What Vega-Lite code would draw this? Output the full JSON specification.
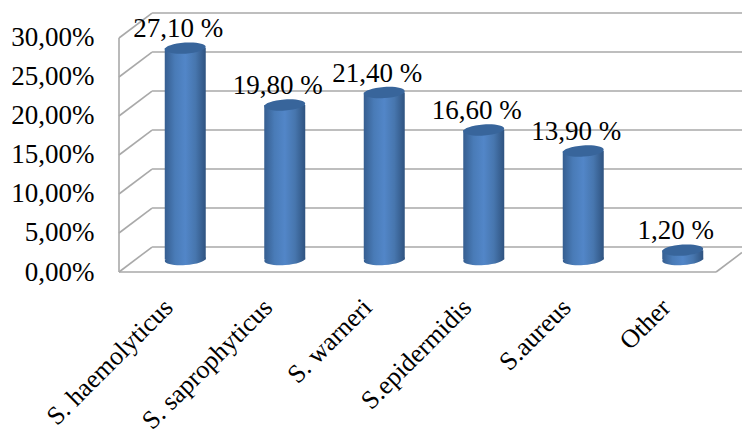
{
  "$schema": "https://vega.github.io/schema/vega-lite/v6.json",
  "width": 623,
  "height": 272,
  "padding": {"left": 119, "top": 0, "right": 0, "bottom": 162},
  "autosize": {"type": "none"},
  "background": "white",
  "config": {"view": {"stroke": null}, "font": "Liberation Serif"},
  "datasets": {
    "isolates": [
      {"name": "S. haemolyticus", "share": 27.1, "label": "27,10 %"},
      {"name": "S. saprophyticus", "share": 19.8, "label": "19,80 %"},
      {"name": "S. warneri", "share": 21.4, "label": "21,40 %"},
      {"name": "S.epidermidis", "share": 16.6, "label": "16,60 %"},
      {"name": "S.aureus", "share": 13.9, "label": "13,90 %"},
      {"name": "Other", "share": 1.2, "label": "1,20 %"}
    ],
    "frame": [
      {"x0": 0, "x1": 0, "y0": 0, "y1": 30},
      {"x0": 0, "x1": 6, "y0": 0, "y1": 0},
      {"x0": 6, "x1": 6.26, "y0": 0, "y1": 2.5},
      {"x0": 0, "x1": 0.332, "y0": 0, "y1": 3.2},
      {"x0": 0, "x1": 0.332, "y0": 5, "y1": 8.2},
      {"x0": 0, "x1": 0.332, "y0": 10, "y1": 13.2},
      {"x0": 0, "x1": 0.332, "y0": 15, "y1": 18.2},
      {"x0": 0, "x1": 0.332, "y0": 20, "y1": 23.2},
      {"x0": 0, "x1": 0.332, "y0": 25, "y1": 28.2},
      {"x0": 0, "x1": 0.332, "y0": 30, "y1": 33.2},
      {"x0": 0.332, "x1": 6.26, "y0": 3.2, "y1": 3.2},
      {"x0": 0.332, "x1": 6.26, "y0": 8.2, "y1": 8.2},
      {"x0": 0.332, "x1": 6.26, "y0": 13.2, "y1": 13.2},
      {"x0": 0.332, "x1": 6.26, "y0": 18.2, "y1": 18.2},
      {"x0": 0.332, "x1": 6.26, "y0": 23.2, "y1": 23.2},
      {"x0": 0.332, "x1": 6.26, "y0": 28.2, "y1": 28.2},
      {"x0": 0.332, "x1": 6.26, "y0": 33.2, "y1": 33.2}
    ]
  },
  "resolve": {"scale": {"x": "independent"}, "axis": {"x": "independent"}},
  "layer": [
    {
      "data": {"name": "frame"},
      "mark": {"type": "rule", "stroke": "#a9a9a9", "strokeWidth": 1.6},
      "encoding": {
        "x": {"field": "x0", "type": "quantitative", "axis": null, "scale": {"domain": [0, 6.26], "nice": false, "zero": false}},
        "x2": {"field": "x1"},
        "y": {
          "field": "y0",
          "type": "quantitative",
          "scale": {"domain": [0, 34.87], "nice": false},
          "axis": {
            "title": null,
            "values": [0, 5, 10, 15, 20, 25, 30],
            "labelExpr": "replace(format(datum.value, '.2f'), '.', ',') + '%'",
            "labelFont": "Liberation Serif",
            "labelFontSize": 27,
            "labelColor": "#000000",
            "labelPadding": 25,
            "labelOverlap": false,
            "labelBound": false,
            "labelFlush": false,
            "ticks": false,
            "domain": false,
            "grid": false
          }
        },
        "y2": {"field": "y1"}
      }
    },
    {
      "layer": [
        {
          "mark": {
            "type": "point",
            "filled": true,
            "opacity": 1,
            "shape": "M-1,0A1,0.27,0,1,0,1,0A1,0.27,0,1,0,-1,0Z",
            "size": 1681,
            "angle": -4,
            "xOffset": 16.5,
            "yOffset": -12.5,
            "fill": {"x1": 0, "x2": 1, "y1": 0, "y2": 0, "gradient": "linear", "stops": [
              {"offset": 0, "color": "#365e90"},
              {"offset": 0.25, "color": "#497bb7"},
              {"offset": 0.5, "color": "#5286c8"},
              {"offset": 0.75, "color": "#4776ae"},
              {"offset": 1, "color": "#2f5380"}
            ]}
          },
          "encoding": {"y": {"datum": 0, "type": "quantitative"}}
        },
        {
          "mark": {
            "type": "bar",
            "size": 41,
            "xOffset": 16.5,
            "yOffset": -12.5,
            "fill": {"x1": 0, "x2": 1, "y1": 0, "y2": 0, "gradient": "linear", "stops": [
              {"offset": 0, "color": "#365e90"},
              {"offset": 0.25, "color": "#497bb7"},
              {"offset": 0.5, "color": "#5286c8"},
              {"offset": 0.75, "color": "#4776ae"},
              {"offset": 1, "color": "#2f5380"}
            ]}
          },
          "encoding": {"y": {"field": "share", "type": "quantitative"}}
        },
        {
          "mark": {
            "type": "point",
            "filled": true,
            "opacity": 1,
            "shape": "M-1,0A1,0.27,0,1,0,1,0A1,0.27,0,1,0,-1,0Z",
            "size": 1681,
            "angle": -4,
            "xOffset": 16.5,
            "yOffset": -12.5,
            "fill": "#38659b"
          },
          "encoding": {"y": {"field": "share", "type": "quantitative"}}
        },
        {
          "mark": {
            "type": "text",
            "font": "Liberation Serif",
            "fontSize": 27,
            "color": "#000000",
            "align": "center",
            "baseline": "alphabetic",
            "xOffset": 9.5,
            "yOffset": -23.5
          },
          "encoding": {
            "y": {"field": "share", "type": "quantitative"},
            "text": {"field": "label"}
          }
        }
      ],
      "data": {"name": "isolates"},
      "encoding": {
        "x": {
          "field": "name",
          "type": "nominal",
          "sort": null,
          "scale": {"range": [0, 597], "paddingInner": 0.1, "paddingOuter": 0.05},
          "axis": {
            "title": null,
            "orient": "bottom",
            "labelAngle": -45,
            "labelAlign": "right",
            "labelBaseline": "middle",
            "labelFont": "Liberation Serif",
            "labelFontSize": 26,
            "labelColor": "#000000",
            "labelPadding": 31,
            "labelOverlap": false,
            "labelBound": false,
            "labelLimit": 400,
            "ticks": false,
            "domain": false,
            "grid": false
          }
        }
      }
    }
  ]
}
